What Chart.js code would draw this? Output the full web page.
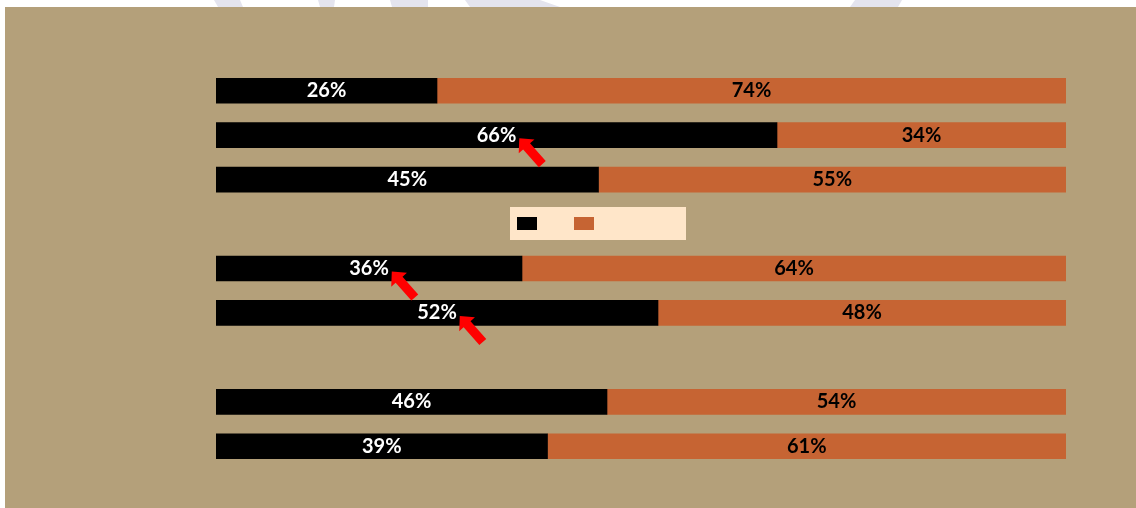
<!DOCTYPE html>
<html>
<head>
<meta charset="utf-8">
<script src="https://cdn.jsdelivr.net/npm/chart.js@4/dist/chart.umd.min.js"></script>
<style>
html,body{margin:0;padding:0;background:#ffffff;}
#wrap{width:1136px;height:508px;position:relative;}
</style>
</head>
<body>
<div id="wrap"><canvas id="c" width="1136" height="508"></canvas></div>
<script>
const categories = ["A","B","C","","D","E","","F","G"];
const seriesNames = [" ", " "];
const seriesA = [26, 66, 45, null, 36, 52, null, 46, 39];
const seriesB = [74, 34, 55, null, 64, 48, null, 54, 61];
const arrowRows = [false, true, false, false, true, true, false, false, false];

const BG = "#B4A07A";
const BLACK = "#000000";
const ORANGE = "#C66433";
const LEGEND_BG = "#FFE6C9";

const bgPlugin = {
  id: "bg",
  beforeDraw(chart) {
    const ctx = chart.ctx;
    ctx.save();
    ctx.fillStyle = "#ffffff";
    ctx.fillRect(0, 0, chart.width, chart.height);
    ctx.fillStyle = "#E4E4EE";
    ctx.beginPath(); ctx.moveTo(214,0); ctx.lineTo(240,0); ctx.lineTo(243,7); ctx.lineTo(218,7); ctx.fill();
    ctx.beginPath(); ctx.moveTo(318,0); ctx.lineTo(335,0); ctx.lineTo(334,7); ctx.lineTo(320,7); ctx.fill();
    ctx.beginPath(); ctx.moveTo(390,0); ctx.lineTo(428,0); ctx.lineTo(428,7); ctx.lineTo(392,7); ctx.fill();
    ctx.beginPath(); ctx.moveTo(465,0); ctx.lineTo(540,0); ctx.lineTo(560,7); ctx.lineTo(470,7); ctx.fill();
    ctx.beginPath(); ctx.moveTo(855,0); ctx.lineTo(902,0); ctx.lineTo(898,7); ctx.lineTo(850,7); ctx.fill();
    ctx.fillStyle = BG;
    ctx.fillRect(5, 7, chart.width - 5, chart.height - 7);
    ctx.restore();
  }
};

function drawArrow(ctx, tx, ty, fx, fy) {
  const dx = tx - fx, dy = ty - fy;
  const len = Math.hypot(dx, dy);
  const ux = dx / len, uy = dy / len;
  const px = -uy, py = ux;
  const headLen = 11, headW = 10.5, shaftW = 4.6;
  const bx = tx - ux * headLen, by = ty - uy * headLen;
  ctx.beginPath();
  ctx.moveTo(tx, ty);
  ctx.lineTo(bx + px * headW, by + py * headW);
  ctx.lineTo(bx + px * shaftW, by + py * shaftW);
  ctx.lineTo(fx + px * shaftW, fy + py * shaftW);
  ctx.lineTo(fx - px * shaftW, fy - py * shaftW);
  ctx.lineTo(bx - px * shaftW, by - py * shaftW);
  ctx.lineTo(bx - px * headW, by - py * headW);
  ctx.closePath();
  ctx.fill();
}

const labelPlugin = {
  id: "labels",
  afterDatasetsDraw(chart) {
    const ctx = chart.ctx;
    ctx.save();
    ctx.font = "bold 20px Lato";
    ctx.textAlign = "center";
    ctx.textBaseline = "middle";
    chart.data.datasets.forEach((ds, di) => {
      const meta = chart.getDatasetMeta(di);
      meta.data.forEach((bar, i) => {
        const v = ds.data[i];
        if (v === null || v === undefined) return;
        const p = bar.getProps(["x", "y", "base"], true);
        const cx = (p.x + p.base) / 2;
        const txt = v + "%";
        ctx.fillStyle = di === 0 ? "#ffffff" : "#000000";
        ctx.fillText(txt, cx, p.y);
        if (di === 0 && arrowRows[i]) {
          const w = ctx.measureText(txt).width;
          const tx = cx + w / 2 + 3, ty = p.y + 3;
          ctx.fillStyle = "#FF0000";
          drawArrow(ctx, tx, ty, tx + 23, ty + 26);
          ctx.fillStyle = "#ffffff";
        }
      });
    });
    ctx.restore();
  }
};

const legendPlugin = {
  id: "customLegend",
  afterDraw(chart) {
    const ctx = chart.ctx;
    ctx.save();
    ctx.fillStyle = LEGEND_BG;
    ctx.fillRect(510, 207, 176, 33);
    chart.data.datasets.forEach((ds, di) => {
      ctx.fillStyle = ds.backgroundColor;
      ctx.fillRect(517 + di * 57, 217, 20, 13);
    });
    ctx.restore();
  }
};

new Chart(document.getElementById("c"), {
  type: "bar",
  data: {
    labels: categories,
    datasets: [
      { label: seriesNames[0], data: seriesA, backgroundColor: BLACK },
      { label: seriesNames[1], data: seriesB, backgroundColor: ORANGE }
    ]
  },
  options: {
    indexAxis: "y",
    responsive: false,
    animation: false,
    layout: { padding: { left: 216, right: 70, top: 68.5, bottom: 39.5 } },
    datasets: { bar: { barThickness: 25, borderWidth: 0 } },
    scales: {
      x: { stacked: true, min: 0, max: 100, display: false },
      y: { stacked: true, display: false }
    },
    plugins: { legend: { display: false }, tooltip: { enabled: false } }
  },
  plugins: [bgPlugin, labelPlugin, legendPlugin]
});
</script>
</body>
</html>
